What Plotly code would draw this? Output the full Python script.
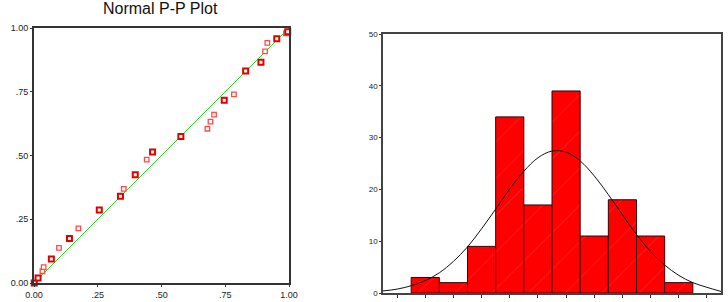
import plotly.graph_objects as go

# ---- Normal P-P plot data (observed cum prob vs expected cum prob) ----
pp_dark_x = [0.001, 0.016, 0.068, 0.139, 0.256, 0.339, 0.397, 0.465, 0.576, 0.746, 0.830, 0.890, 0.952, 0.995]
pp_dark_y = [0.000, 0.020, 0.094, 0.175, 0.286, 0.340, 0.425, 0.514, 0.575, 0.717, 0.831, 0.866, 0.958, 0.985]
pp_light_x = [0.033, 0.038, 0.098, 0.174, 0.352, 0.442, 0.680, 0.692, 0.706, 0.784, 0.906, 0.915, 0.988]
pp_light_y = [0.046, 0.062, 0.138, 0.214, 0.369, 0.484, 0.605, 0.633, 0.660, 0.740, 0.908, 0.942, 0.979]
pp_ticks = [0, 0.25, 0.5, 0.75, 1.0]
pp_ticklabels = ["0.00", ".25", ".50", ".75", "1.00"]

# ---- Histogram data ----
bin_centers = [1.5, 2.5, 3.5, 4.5, 5.5, 6.5, 7.5, 8.5, 9.5, 10.5]
bin_counts = [3, 2, 9, 34, 17, 39, 11, 18, 11, 2]
curve_x = [0, 0.5, 1, 1.5, 2, 2.5, 3, 3.5, 4, 4.5, 5, 5.5, 6, 6.5, 7, 7.5, 8, 8.5, 9, 9.5, 10, 10.5, 11, 11.5, 12]
curve_y = [0.4, 0.75, 1.4, 2.4, 3.9, 6.1, 8.9, 12.4, 16.2, 20.1, 23.5, 26.1, 27.4, 27.2, 25.5, 22.6, 19.0, 15.1, 11.3, 8.0, 5.4, 3.4, 2.0, 1.1, 0.3]
hist_xticks = [0.5, 1.5, 2.5, 3.5, 4.5, 5.5, 6.5, 7.5, 8.5, 9.5, 10.5, 11.5]
hist_yticks = [0, 10, 20, 30, 40, 50]

fig = go.Figure()

# reference line
fig.add_trace(go.Scatter(x=[0, 1], y=[0, 1], mode="lines",
                         line=dict(color="#33dd33", width=1),
                         xaxis="x", yaxis="y", hoverinfo="skip"))
fig.add_trace(go.Scatter(x=pp_light_x, y=pp_light_y, mode="markers",
                         marker=dict(symbol="square", size=4.5, color="white",
                                     line=dict(color="#ff4a4a", width=1.3)),
                         xaxis="x", yaxis="y", cliponaxis=False))
fig.add_trace(go.Scatter(x=pp_dark_x, y=pp_dark_y, mode="markers",
                         marker=dict(symbol="square", size=5, color="white",
                                     line=dict(color="#e00000", width=2)),
                         xaxis="x", yaxis="y", cliponaxis=False))

# histogram
fig.add_trace(go.Bar(x=bin_centers, y=bin_counts, width=1.0,
                     marker=dict(color="#ff0000",
                                 line=dict(color="#3a0000", width=1),
                                 pattern=dict(shape="/", fgcolor="#ff5a5a", size=26,
                                              solidity=0.03, fillmode="overlay")),
                     xaxis="x2", yaxis="y2"))
fig.add_trace(go.Scatter(x=curve_x, y=curve_y, mode="lines", line_shape="spline",
                         line=dict(color="#111111", width=1),
                         xaxis="x2", yaxis="y2", hoverinfo="skip"))

tickfont = dict(family="Liberation Sans, Arial, sans-serif", size=9, color="#222")

fig.update_layout(
    width=728, height=302,
    margin=dict(l=0, r=0, t=0, b=0),
    paper_bgcolor="white", plot_bgcolor="white",
    showlegend=False,
    xaxis=dict(domain=[34/728, 289/728], range=[0, 1], tickvals=pp_ticks, ticktext=pp_ticklabels,
               showgrid=False, zeroline=False, showline=True, mirror=True, automargin=False,
               linecolor="#333", linewidth=2, ticks="outside", ticklen=2, tickcolor="#333",
               tickfont=tickfont, anchor="y"),
    yaxis=dict(domain=[19/302, 274/302], range=[0, 1], tickvals=pp_ticks, ticktext=pp_ticklabels,
               showgrid=False, zeroline=False, showline=True, mirror=True, automargin=False,
               linecolor="#333", linewidth=2, ticks="outside", ticklen=2, tickcolor="#333",
               tickfont=tickfont, anchor="x"),
    xaxis2=dict(domain=[383/728, 721/728], range=[0, 12], tickvals=hist_xticks, showticklabels=False,
                showgrid=False, zeroline=False, showline=True, mirror=True, automargin=False,
                linecolor="#444", linewidth=1.5, ticks="outside", ticklen=3, tickcolor="#333",
                anchor="y2"),
    yaxis2=dict(domain=[9/302, 268/302], range=[0, 50], tickvals=hist_yticks,
                showgrid=False, zeroline=False, showline=True, mirror=True, automargin=False,
                linecolor="#444", linewidth=1.5, ticks="outside", ticklen=2, tickcolor="#333",
                tickfont=dict(family="Liberation Sans, Arial, sans-serif", size=8, color="#222"),
                anchor="x2"),
    annotations=[dict(text="Normal P-P Plot", x=160/728, y=1.0, xref="paper", yref="paper",
                      xanchor="center", yanchor="top", yshift=2, showarrow=False,
                      font=dict(family="Liberation Sans, Arial, sans-serif", size=16, color="#111"))],
)

fig.write_html("out.html")
